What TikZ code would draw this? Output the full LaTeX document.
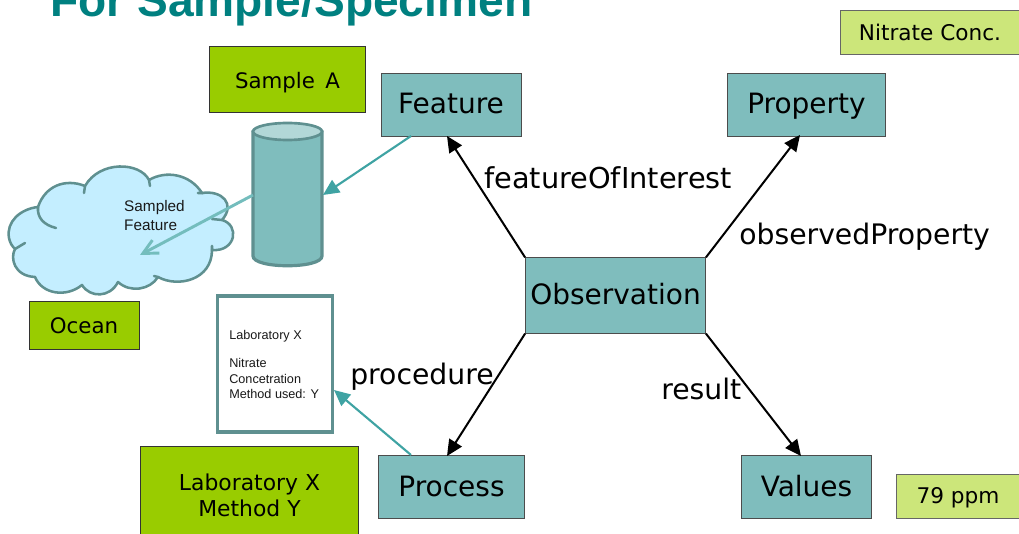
\documentclass[tikz,border=0pt]{standalone}
\usepackage{fontspec}
\setmainfont{DejaVu Sans}
\newfontfamily\arialf{Liberation Sans}
\usetikzlibrary{arrows.meta}
\definecolor{tealbox}{HTML}{7FBDBD}
\definecolor{greenbox}{HTML}{99CC00}
\definecolor{lightgreen}{HTML}{CCE67A}
\definecolor{edgegrey}{HTML}{5F9090}
\definecolor{cloudfill}{HTML}{C4EEFF}
\definecolor{titleteal}{HTML}{008080}
\definecolor{arrowteal}{HTML}{3FA3A3}
\definecolor{arrowlight}{HTML}{74BDBD}
\tikzset{
  concept/.style={draw=black!70,line width=.6pt,fill=tealbox,minimum height=47pt,font=\fontsize{21}{25}\selectfont,inner sep=0pt,text height=19pt,text depth=5.5pt},
  sample/.style={draw=black!80,line width=.6pt,fill=greenbox,inner sep=0pt,align=center,font=\fontsize{16}{19.5}\selectfont,text=black},
  valuebox/.style={draw=black!60,line width=.5pt,fill=lightgreen,inner sep=0pt,align=center,font=\fontsize{16.2}{20}\selectfont},
  relarrow/.style={-{Triangle[length=12pt,width=11pt]},line width=1.5pt,black},
  linkarrow/.style={-{Triangle[length=12pt,width=11pt]},line width=1.6pt,arrowteal},
  rel/.style={font=\fontsize{21.2}{25}\selectfont,inner sep=0pt},
  small/.style={align=left,inner sep=0pt,text=black!90}
}
\begin{document}
\begin{tikzpicture}[x=0.75pt,y=-0.75pt]
\useasboundingbox (0,0) rectangle (1019,534);
\clip (0,0) rectangle (1019,534);
\node[anchor=base west,inner sep=0pt,text=titleteal,font=\arialf\bfseries\fontsize{34.6}{40}\selectfont] (title) at (50,16.5) {For Sample/Specimen};
% concept boxes
\node[concept,minimum width=105pt] (feature) at (451,105) {Feature};
\node[concept,minimum width=119pt] (property) at (806.5,105) {Property};
\node[concept,minimum width=135pt,minimum height=56.5pt] (obs) at (615.5,295.5) {Observation};
\node[concept,minimum width=110pt] (process) at (451.5,487) {Process};
\node[concept,minimum width=97.5pt] (values) at (806.5,487) {Values};
% samples
\node[sample,minimum width=117pt,minimum height=49.5pt,text height=16pt,text depth=3.2pt] (sampleA) at (287.5,79.5) {Sample\, A};
\node[sample,minimum width=82.5pt,minimum height=36pt,text height=13pt,text depth=1pt] (ocean) at (84,325.5) {Ocean};
\node[sample,minimum width=164pt,minimum height=74pt,font=\fontsize{16.4}{19.5}\selectfont] (lab) at (249.5,495.5) {Laboratory X\\Method Y};
\node[valuebox,minimum width=134pt,minimum height=33pt] (nitrate) at (930,32) {Nitrate Conc.};
\node[valuebox,minimum width=93pt,minimum height=33pt,text height=14pt,text depth=3.4pt] (ppm) at (958,496) {79 ppm};
% cloud
\path[fill=cloudfill,draw=edgegrey,line width=1.9pt,line join=round]
 (38,207) .. controls (20,209) and (6,222) .. (9,238)
 .. controls (10,243) and (12,246) .. (15,249)
 .. controls (10,258) and (14,276) .. (35,277)
 .. controls (42,294) and (66,298) .. (82,285)
 .. controls (90,298) and (110,298) .. (118,282)
 .. controls (130,293) and (150,290) .. (158,277)
 .. controls (178,288) and (212,280) .. (212,250)
 .. controls (236,252) and (240,225) .. (222,220)
 .. controls (236,204) and (222,190) .. (202,193)
 .. controls (190,174) and (166,170) .. (149,180)
 .. controls (140,162) and (100,160) .. (85,186)
 .. controls (65,178) and (45,186) .. (38,207) -- cycle;
\draw[edgegrey,line width=1.9pt,line cap=round]
 (38,207) .. controls (37,218) and (44,225) .. (56,228)
 (25,243) -- (15,249)
 (85,186) -- (84,193)
 (149,180) -- (150,186)
 (198,193) -- (203,193)
 (212,219) -- (222,220)
 (212,250) -- (212,246)
 (154,276) -- (158,277);
\node[small,font=\arialf\fontsize{11.5}{14.2}\selectfont] (sampled) at (154.5,215.5) {Sampled\\Feature};
% cylinder
\path[fill=tealbox,draw=edgegrey,line width=2.4pt] (253,132) -- (253,256) .. controls (253,269) and (322,269) .. (322,256) -- (322,132) -- cycle;
\path[fill=tealbox!60!white,draw=edgegrey,line width=2pt] (287.5,131.5) ellipse [x radius=34.5,y radius=8.5];
\coordinate (cylL) at (253,195);
\coordinate (cylR) at (323,195);
\coordinate (cloudT) at (140,255);
% document
\node[draw=edgegrey,line width=2.4pt,fill=white,minimum width=86pt,minimum height=102pt,inner sep=0pt] (doc) at (275,364) {};
\node[small,anchor=west,font=\arialf\fontsize{9.5}{11.6}\selectfont] (doctext) at (229,364.5) {Laboratory X\\[9.8pt]Nitrate\\Concetration\\Method used: Y};
% relation arrows
\draw[relarrow] (obs.north west) -- (447,136);
\draw[relarrow] (obs.north east) -- (800,135);
\draw[relarrow] (obs.south west) -- (447,456);
\draw[relarrow] (obs.south east) -- (801,456);
% link arrows
\draw[linkarrow] (411,136) -- (cylR);
\draw[-{Straight Barb[length=11pt,width=11pt]},line width=2.2pt,arrowlight] (cylL) -- (cloudT);
\draw[linkarrow] (411,455) -- (334,390);
% labels
\node[rel,anchor=base west,font=\fontsize{21.6}{25}\selectfont] (l1) at (484,189) {featureOfInterest};
\node[rel,anchor=base west] (l2) at (739,245) {observedProperty};
\node[rel,anchor=base west] (l3) at (350,384) {procedure};
\node[rel,anchor=base west] (l4) at (661,399) {result};
\end{tikzpicture}
\end{document}
